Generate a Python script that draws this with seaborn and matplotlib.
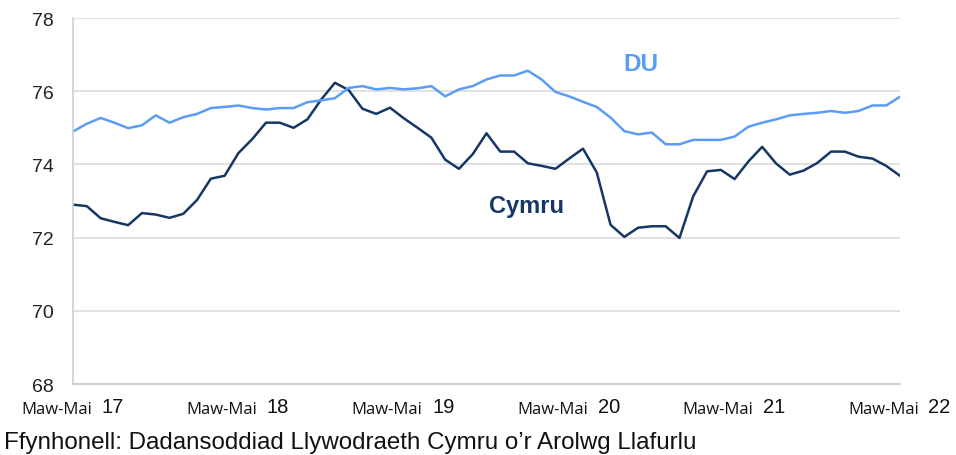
import matplotlib
matplotlib.use("Agg")
import matplotlib.pyplot as plt
import matplotlib.transforms as mtransforms
import seaborn as sns
import pandas as pd

# rolling three-month periods, Mar-May 2017 .. Mar-May 2022
years = ["17", "18", "19", "20", "21", "22"]
period_label = "Maw-Mai"

cymru = [72.90, 72.86, 72.53, 72.43, 72.34, 72.67, 72.63, 72.54, 72.65, 73.03,
         73.61, 73.69, 74.31, 74.69, 75.14, 75.14, 75.00, 75.23, 75.77, 76.23,
         76.03, 75.52, 75.38, 75.55, 75.26, 75.00, 74.73, 74.13, 73.88, 74.28,
         74.85, 74.35, 74.35, 74.03, 73.96, 73.88, 74.16, 74.43, 73.78, 72.35,
         72.02, 72.27, 72.31, 72.31, 71.99, 73.13, 73.81, 73.85, 73.60, 74.08,
         74.48, 74.03, 73.72, 73.83, 74.04, 74.35, 74.35, 74.21, 74.16, 73.96,
         73.69]
du = [74.90, 75.11, 75.27, 75.14, 74.99, 75.07, 75.34, 75.14, 75.29, 75.38,
      75.54, 75.57, 75.61, 75.54, 75.50, 75.54, 75.54, 75.70, 75.75, 75.81,
      76.09, 76.14, 76.05, 76.09, 76.05, 76.08, 76.14, 75.86, 76.05, 76.14,
      76.32, 76.43, 76.43, 76.56, 76.32, 75.98, 75.86, 75.71, 75.57, 75.28,
      74.91, 74.82, 74.87, 74.55, 74.55, 74.67, 74.67, 74.67, 74.76, 75.03,
      75.14, 75.23, 75.34, 75.38, 75.41, 75.46, 75.41, 75.46, 75.61, 75.61,
      75.85]

yticks = [68, 70, 72, 74, 76, 78]
source = "Ffynhonell: Dadansoddiad Llywodraeth Cymru o\u2019r Arolwg Llafurlu"

c_du = "#5B9CF4"
c_cy = "#163766"

df = pd.DataFrame({"month": list(range(len(cymru))) * 2,
                   "value": cymru + du,
                   "series": ["Cymru"] * len(cymru) + ["DU"] * len(du)})

sns.set_style("white")
plt.rcParams["font.family"] = ["Liberation Sans", "DejaVu Sans"]

fig = plt.figure(figsize=(9.56, 4.56), dpi=100)
ax = fig.add_axes([0.0764, 0.1557, 0.865, 0.8026])

sns.lineplot(data=df, x="month", y="value", hue="series",
             palette={"Cymru": c_cy, "DU": c_du}, linewidth=1.8,
             legend=False, ax=ax)

ax.set_xlim(0, len(cymru) - 1)
ax.set_ylim(68, 78)
ax.set_yticks(yticks)
ax.set_yticklabels([str(v) for v in yticks], fontsize=14, color="#222222")
ax.yaxis.grid(True, color="#DCDCDC", linewidth=1.2)
ax.set_axisbelow(True)
ax.set_xlabel("")
ax.set_ylabel("")

xt = list(range(0, len(cymru), 12))
ax.set_xticks(xt)
ax.set_xticklabels([""] * len(xt))
ax.tick_params(axis="x", length=5, color="#C8C8C8", width=1)
ax.tick_params(axis="y", length=0, pad=14)

for s in ["top", "right"]:
    ax.spines[s].set_visible(False)
ax.spines["left"].set_color("#D0D0D0")
ax.spines["bottom"].set_color("#C8C8C8")
ax.spines["left"].set_linewidth(1.2)
ax.spines["bottom"].set_linewidth(1.2)

# two-part tick labels: period in a small font, year in a larger one
trans = mtransforms.blended_transform_factory(ax.transData, ax.transAxes)
for m, yr in zip(xt, years):
    ax.text(m, 0, period_label,
            transform=mtransforms.offset_copy(trans, fig=fig, x=13.5, y=-18, units="points"),
            ha="right", va="center", fontsize=12, family=["Open Sans", "DejaVu Sans"], color="#111111")
    ax.text(m, 0, yr,
            transform=mtransforms.offset_copy(trans, fig=fig, x=20.5, y=-16.5, units="points"),
            ha="left", va="center", fontsize=14.5, color="#111111")

ax.text(41.2, 76.75, "DU", color=c_du, fontsize=17.5, fontweight="bold", ha="center", va="center")
ax.text(32.9, 72.89, "Cymru", color=c_cy, fontsize=17, fontweight="bold", ha="center", va="center")

fig.text(0.004, 0.028, source, fontsize=17.4, ha="left", va="center", color="#111111")

fig.savefig("out.png", dpi=100)
